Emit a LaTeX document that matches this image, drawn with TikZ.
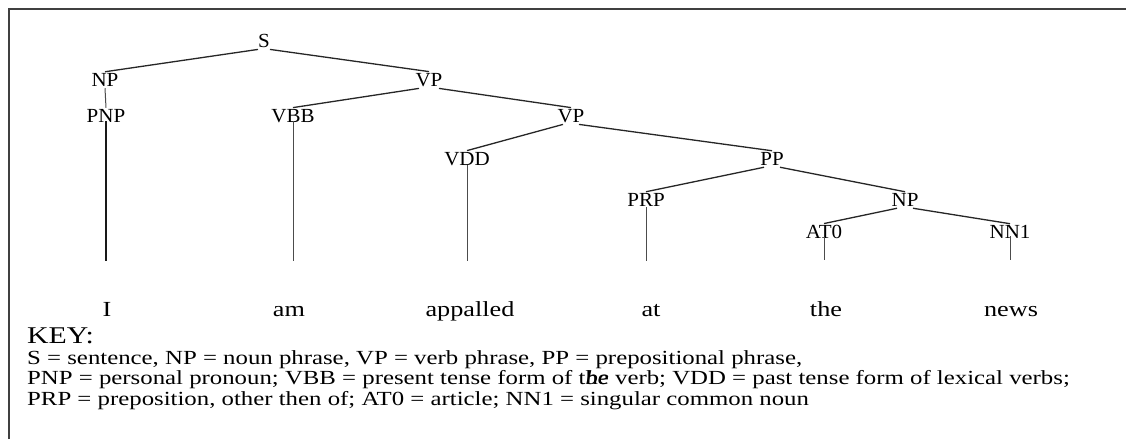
\documentclass[tikz,border=0pt]{standalone}
\usepackage{fontspec}
\setmainfont{Liberation Serif}
\newfontfamily\lblfont{Liberation Serif}[FakeStretch=1.05]
\newfontfamily\wordfont{Liberation Serif}[FakeStretch=1.22]
\newfontfamily\keyfont{Liberation Serif}[FakeStretch=1.24]
\usetikzlibrary{calc}
\begin{document}
\begin{tikzpicture}[x=1pt,y=-1pt,
  lbl/.style={font=\lblfont\fontsize{20}{22}\selectfont, inner sep=1.5pt},
  word/.style={font=\wordfont\fontsize{21.5}{24}\selectfont, anchor=base, inner sep=0pt},
  keyhead/.style={font=\keyfont\fontsize{24}{26}\selectfont, anchor=base west, inner sep=0pt},
  keyl/.style={font=\keyfont\fontsize{20}{22}\selectfont, anchor=base west, inner sep=0pt},
  edge/.style={line width=1.3pt, draw=black!85},
  stem/.style={line width=1pt, draw=black!70},
]
\useasboundingbox[fill=white] (0,0) rectangle (1126,439);
\draw[line width=2pt, draw=black!75] (9,439) -- (9,9) -- (1126,9);

% tree labels
\node[lbl] (S)   at (264,41)  {S};
\node[lbl] (NP)  at (105,80)  {NP};
\node[lbl] (VP)  at (429,80)  {VP};
\node[lbl] (PNP) at (106,116) {PNP};
\node[lbl] (VBB) at (293,116) {VBB};
\node[lbl] (VPb) at (571,116) {VP};
\node[lbl] (VDD) at (467,159) {VDD};
\node[lbl] (PP)  at (772,159) {PP};
\node[lbl] (PRP) at (646,200) {PRP};
\node[lbl] (NPb) at (905,200) {NP};
\node[lbl] (AT0) at (824,232) {AT0};
\node[lbl] (NN1) at (1010,232) {NN1};

% words
\node[word] (wI)   at (107,316) {I};
\node[word] (wam)  at (289,316) {am};
\node[word] (wapp) at (470,316) {appalled};
\node[word] (wat)  at (651,316) {at};
\node[word] (wthe) at (826,316) {the};
\node[word] (wnews) at (1011,316) {news};

% stem ends
\coordinate (tPNP) at (106,261);
\coordinate (tVBB) at (293,261);
\coordinate (tVDD) at (467,261);
\coordinate (tPRP) at (646,261);
\coordinate (tAT0) at (824,260);
\coordinate (tNN1) at (1010,260);

% edges
\draw[edge] ($(S.south)+(-6,0)$) -- (NP.north);
\draw[edge] ($(S.south)+(6,0)$) -- (VP.north);
\draw[stem] (NP.south) -- (PNP.north);
\draw[edge] ($(VP.south)+(-10,0)$) -- (VBB.north);
\draw[edge] ($(VP.south)+(10,0)$) -- (VPb.north);
\draw[edge] ($(VPb.south)+(-8,0)$) -- (VDD.north);
\draw[edge] ($(VPb.south)+(8,0)$) -- (PP.north);
\draw[edge] ($(PP.south)+(-8,0)$) -- (PRP.north);
\draw[edge] ($(PP.south)+(8,0)$) -- (NPb.north);
\draw[edge] ($(NPb.south)+(-8,0)$) -- (AT0.north);
\draw[edge] ($(NPb.south)+(8,0)$) -- (NN1.north);

% stems
\draw[line width=1.4pt, draw=black!90] ($(PNP.center)+(0,5)$) -- (tPNP);
\draw[stem] ($(VBB.center)+(0,5)$) -- (tVBB);
\draw[stem] ($(VDD.center)+(0,6)$) -- (tVDD);
\draw[stem] ($(PRP.center)+(0,7)$) -- (tPRP);
\draw[stem] ($(AT0.center)+(0,5)$) -- (tAT0);
\draw[stem] ($(NN1.center)+(0,4)$) -- (tNN1);

% key
\node[keyhead] (key) at (27,343) {KEY:};
\node[keyl] (k1) at (27,364) {S = sentence, NP = noun phrase, VP = verb phrase, PP = prepositional phrase,};
\node[keyl] (k2) at (27,384) {PNP = personal pronoun; VBB = present tense form of t\rlap{he}\textit{be} verb; VDD = past tense form of lexical verbs;};
\node[keyl] (k3) at (27,405) {PRP = preposition, other then of; AT0 = article; NN1 = singular common noun};
\end{tikzpicture}
\end{document}
